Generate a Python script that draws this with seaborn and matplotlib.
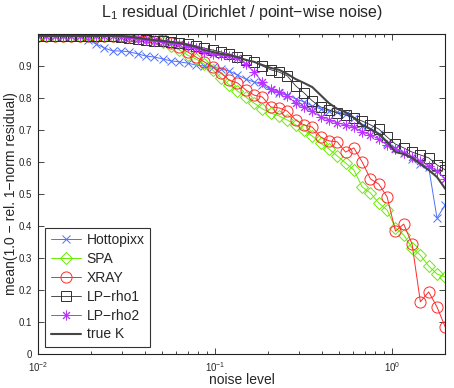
import numpy as np
import pandas as pd
import seaborn as sns
import matplotlib.pyplot as plt
from matplotlib.ticker import LogLocator, NullFormatter, FixedLocator, FuncFormatter

# noise levels (50 log-spaced steps from 1e-2 to 2)
noise = np.geomspace(0.01, 2.0, 50)

hottopixx = [0.994, 0.994, 0.994, 0.994, 0.994, 0.994, 0.981, 0.969, 0.956, 0.947,
             0.947, 0.944, 0.938, 0.931, 0.928, 0.922, 0.916, 0.913, 0.909, 0.903,
             0.900, 0.897, 0.891, 0.884, 0.872, 0.859, 0.850, 0.841, 0.825, 0.816,
             0.809, 0.797, 0.788, 0.775, 0.766, 0.759, 0.756, 0.750, 0.738, 0.713,
             0.703, 0.688, 0.659, 0.644, 0.628, 0.609, 0.594, 0.584, 0.425, 0.466]
spa = [0.994, 0.994, 0.994, 0.994, 0.994, 0.994, 0.994, 0.994, 0.994, 0.994,
       0.994, 0.994, 0.991, 0.988, 0.981, 0.975, 0.963, 0.950, 0.934, 0.922,
       0.906, 0.888, 0.863, 0.841, 0.822, 0.803, 0.784, 0.766, 0.753, 0.744,
       0.731, 0.716, 0.700, 0.681, 0.659, 0.641, 0.619, 0.597, 0.575, 0.522,
       0.503, 0.472, 0.450, 0.394, 0.372, 0.331, 0.309, 0.275, 0.250, 0.241]
xray = [0.994, 0.994, 0.994, 0.994, 0.994, 0.994, 0.994, 0.994, 0.994, 0.994,
        0.994, 0.994, 0.994, 0.991, 0.988, 0.981, 0.972, 0.959, 0.944, 0.928,
        0.913, 0.897, 0.878, 0.856, 0.847, 0.825, 0.809, 0.803, 0.772, 0.769,
        0.759, 0.731, 0.716, 0.709, 0.678, 0.666, 0.663, 0.631, 0.644, 0.600,
        0.547, 0.531, 0.491, 0.384, 0.406, 0.344, 0.163, 0.194, 0.147, 0.084]
lp_rho1 = [0.994, 0.994, 0.994, 0.994, 0.994, 0.994, 0.994, 0.994, 0.994, 0.993,
           0.991, 0.988, 0.984, 0.981, 0.978, 0.978, 0.975, 0.972, 0.969, 0.963,
           0.956, 0.950, 0.944, 0.938, 0.928, 0.919, 0.913, 0.900, 0.888, 0.881,
           0.869, 0.838, 0.816, 0.791, 0.772, 0.763, 0.753, 0.747, 0.738, 0.728,
           0.716, 0.703, 0.678, 0.656, 0.644, 0.631, 0.622, 0.613, 0.591, 0.575]
lp_rho2 = [0.994, 0.994, 0.994, 0.994, 0.994, 0.994, 0.994, 0.994, 0.994, 0.993,
           0.991, 0.988, 0.984, 0.981, 0.978, 0.975, 0.972, 0.969, 0.963, 0.956,
           0.944, 0.938, 0.934, 0.931, 0.925, 0.906, 0.881, 0.850, 0.828, 0.819,
           0.806, 0.784, 0.772, 0.759, 0.741, 0.731, 0.722, 0.716, 0.709, 0.694,
           0.684, 0.672, 0.653, 0.641, 0.628, 0.616, 0.603, 0.588, 0.572, 0.547]
true_k = [0.994, 0.994, 0.994, 0.994, 0.994, 0.994, 0.994, 0.994, 0.994, 0.994,
          0.994, 0.991, 0.988, 0.984, 0.981, 0.978, 0.975, 0.972, 0.966, 0.960,
          0.950, 0.944, 0.938, 0.934, 0.928, 0.919, 0.913, 0.903, 0.894, 0.888,
          0.875, 0.859, 0.847, 0.834, 0.809, 0.784, 0.766, 0.756, 0.738, 0.716,
          0.703, 0.688, 0.663, 0.631, 0.625, 0.613, 0.594, 0.575, 0.553, 0.516]

series = {
    "Hottopixx": hottopixx,
    "SPA": spa,
    "XRAY": xray,
    "LP\u2212rho1": lp_rho1,
    "LP\u2212rho2": lp_rho2,
    "true K": true_k,
}

# MATLAB-style asterisk: 8 spokes
asterisk = (8, 2, 0)

styles = {
    "Hottopixx": dict(color="#4f6fff", marker="x", markersize=6, lw=0.7, mew=0.7),
    "SPA": dict(color="#66ee00", marker="D", markersize=6, lw=0.7, mew=0.7),
    "XRAY": dict(color="#ff2a2a", marker="o", markersize=8, lw=0.7, mew=0.7),
    "LP\u2212rho1": dict(color="#303030", marker="s", markersize=6.5, lw=0.6, mew=0.7),
    "LP\u2212rho2": dict(color="#bb33ff", marker=asterisk, markersize=7, lw=0.7, mew=0.7),
    "true K": dict(color="#454545", marker=None, lw=1.5),
}

df = pd.DataFrame(
    [(n, name, v) for name, vals in series.items() for n, v in zip(noise, vals)],
    columns=["noise", "method", "value"],
)

sns.set_style("ticks")
plt.rcParams["font.family"] = ["Liberation Sans", "DejaVu Sans"]
plt.rcParams["mathtext.fontset"] = "custom"
plt.rcParams["mathtext.rm"] = "Liberation Sans"
plt.rcParams["mathtext.it"] = "Liberation Sans:italic"
plt.rcParams["mathtext.default"] = "regular"

fig = plt.figure(figsize=(4.54, 3.88), dpi=100)
ax = fig.add_axes([38 / 454, 34 / 388, 407.3 / 454, 320 / 388])

for name in series:
    st = dict(styles[name])
    sub = df[df["method"] == name]
    marker = st.pop("marker")
    kw = dict(data=sub, x="noise", y="value", ax=ax, label=name,
              color=st.pop("color"), linewidth=st.pop("lw"))
    if marker is not None:
        kw.update(marker=marker, markerfacecolor="none",
                  markeredgecolor=kw["color"], markersize=st["markersize"],
                  markeredgewidth=st["mew"])
    sns.lineplot(**kw)

ax.set_xscale("log")
ax.set_xlim(0.01, 2.0)
ax.set_ylim(0, 1)
ax.yaxis.set_major_locator(FixedLocator(np.arange(0, 0.95, 0.1)))
ax.yaxis.set_major_formatter(FuncFormatter(lambda v, p: "0" if abs(v) < 1e-9 else f"{v:.1f}"))
ax.xaxis.set_major_locator(LogLocator(base=10))
ax.xaxis.set_minor_locator(LogLocator(base=10, subs=np.arange(2, 10)))
ax.xaxis.set_minor_formatter(NullFormatter())

ax.tick_params(which="both", direction="in", top=True, right=True, labelsize=7, width=0.6)
ax.tick_params(which="major", length=4)
ax.tick_params(which="minor", length=2.5)
ax.tick_params(axis="x", which="major", pad=4.5)
ax.tick_params(axis="y", which="major", pad=4)
for sp in ax.spines.values():
    sp.set_linewidth(0.8)
    sp.set_color("#222222")

ax.set_title("L$_1$ residual (Dirichlet / point\u2212wise noise)", fontsize=11.5, pad=12)
ax.set_xlabel("noise level", fontsize=10, labelpad=-1)
ax.set_ylabel("mean(1.0 \u2212 rel. 1\u2212norm residual)", fontsize=10, labelpad=1)

leg = ax.legend(loc="lower left", fontsize=10, frameon=True, fancybox=False,
                handlelength=2.2, borderaxespad=0.5, labelspacing=0.35,
                handletextpad=0.4, borderpad=0.4)
leg.get_frame().set_edgecolor("black")
leg.get_frame().set_linewidth(0.8)

fig.savefig("out.png", dpi=100)
